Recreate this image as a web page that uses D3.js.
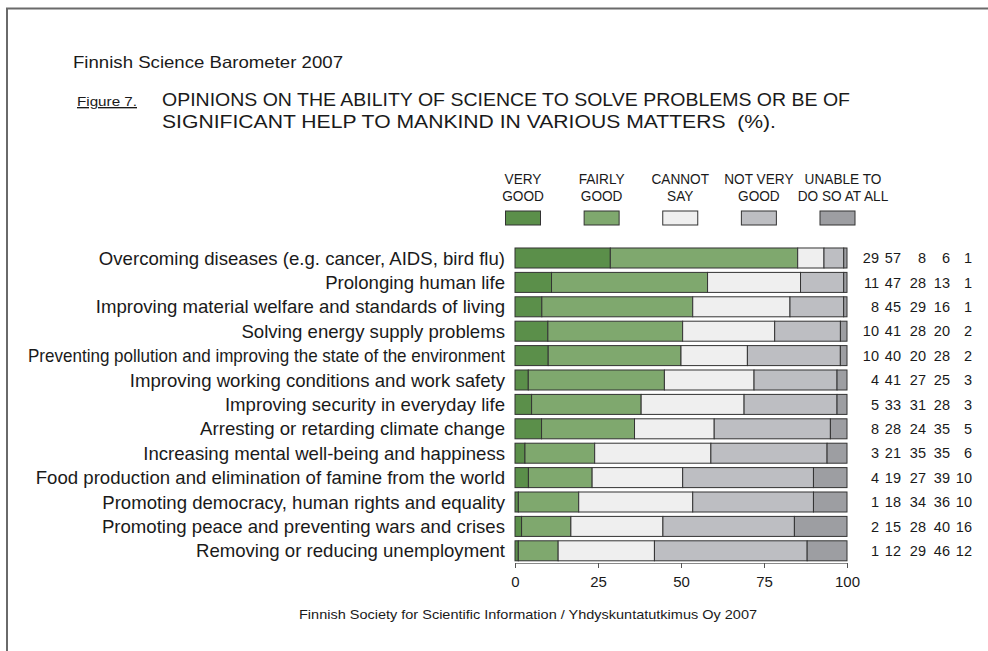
<!DOCTYPE html>
<html>
<head>
<meta charset="utf-8">
<script src="https://cdn.jsdelivr.net/npm/d3@7"></script>
<style>
  body { margin: 0; background: #fff; }
  svg { display: block; }
  text { font-family: "Liberation Sans", Arial, Helvetica, sans-serif; fill: #1a1a1a; }
</style>
</head>
<body>
<svg id="chart" width="988" height="651"></svg>
<script>
// Survey topics, top to bottom
const categories = [
  "Overcoming diseases (e.g. cancer, AIDS, bird flu)",
  "Prolonging human life",
  "Improving material welfare and standards of living",
  "Solving energy supply problems",
  "Preventing pollution and improving the state of the environment",
  "Improving working conditions and work safety",
  "Improving security in everyday life",
  "Arresting or retarding climate change",
  "Increasing mental well-being and happiness",
  "Food production and elimination of famine from the world",
  "Promoting democracy, human rights and equality",
  "Promoting peace and preventing wars and crises",
  "Removing or reducing unemployment"
];

// Answer shares (%) per topic
const veryGood    = [29, 11,  8, 10, 10,  4,  5,  8,  3,  4,  1,  2,  1];
const fairlyGood  = [57, 47, 45, 41, 40, 41, 33, 28, 21, 19, 18, 15, 12];
const cannotSay   = [ 8, 28, 29, 28, 20, 27, 31, 24, 35, 27, 34, 28, 29];
const notVeryGood = [ 6, 13, 16, 20, 28, 25, 28, 35, 35, 39, 36, 40, 46];
const unableAtAll = [ 1,  1,  1,  2,  2,  3,  3,  5,  6, 10, 10, 16, 12];

const seriesKeys = ["veryGood", "fairlyGood", "cannotSay", "notVeryGood", "unableAtAll"];
const seriesValues = [veryGood, fairlyGood, cannotSay, notVeryGood, unableAtAll];
const legendLabels = [
  ["VERY", "GOOD"],
  ["FAIRLY", "GOOD"],
  ["CANNOT", "SAY"],
  ["NOT VERY", "GOOD"],
  ["UNABLE TO", "DO SO AT ALL"]
];
const seriesColors = ["#5b8f4a", "#7fa86e", "#efefef", "#bdbec2", "#9d9ea2"];
const axisTicks = [0, 25, 50, 75, 100];

const svg = d3.select("#chart");

// Squeeze or stretch a text element horizontally to a given width
function fitWidth(sel, w) {
  sel.attr("textLength", w).attr("lengthAdjust", "spacingAndGlyphs");
}
function condense(sel, k) {
  sel.each(function () {
    const len = this.getComputedTextLength();
    d3.select(this).attr("textLength", len * k).attr("lengthAdjust", "spacingAndGlyphs");
  });
}
function capWidth(sel, maxW) {
  sel.each(function () {
    const len = this.getComputedTextLength();
    if (len > maxW) {
      d3.select(this).attr("textLength", maxW).attr("lengthAdjust", "spacingAndGlyphs");
    }
  });
}

// Page frame
svg.append("path")
  .attr("d", "M7,651 V8.5 H988")
  .attr("fill", "none")
  .attr("stroke", "#6a6a6a")
  .attr("stroke-width", 2);

// Headings
svg.append("text").attr("x", 73).attr("y", 68)
  .style("font-size", "16.5px")
  .text("Finnish Science Barometer 2007")
  .call(fitWidth, 270);

svg.append("text").attr("x", 77).attr("y", 106)
  .style("font-size", "13.5px")
  .attr("text-decoration", "underline")
  .text("Figure 7.")
  .call(fitWidth, 60);

svg.append("text").attr("x", 162).attr("y", 106)
  .style("font-size", "18.5px")
  .text("OPINIONS ON THE ABILITY OF SCIENCE TO SOLVE PROBLEMS OR BE OF")
  .call(fitWidth, 688);

svg.append("text").attr("x", 162).attr("y", 128)
  .style("font-size", "18.5px")
  .attr("xml:space", "preserve")
  .text("SIGNIFICANT HELP TO MANKIND IN VARIOUS MATTERS  (%).")
  .call(fitWidth, 614);

// Scales
const x = d3.scaleLinear().domain([0, 100]).range([515, 847]);
const y = d3.scaleBand().domain(categories).range([243.6, 565.2]).padding(0.18);

// Stacked rows, each normalised to its own total
const rows = categories.map((c, i) => {
  const r = { category: c };
  seriesKeys.forEach((k, j) => { r[k] = seriesValues[j][i]; });
  return r;
});
const stacked = d3.stack().keys(seriesKeys).offset(d3.stackOffsetExpand)(rows);

const layers = svg.append("g").selectAll("g")
  .data(stacked)
  .join("g")
  .attr("fill", (d, i) => seriesColors[i]);

layers.selectAll("rect")
  .data(d => d)
  .join("rect")
  .attr("x", d => x(d[0] * 100))
  .attr("y", d => y(d.data.category))
  .attr("width", d => x(d[1] * 100) - x(d[0] * 100))
  .attr("height", y.bandwidth())
  .attr("stroke", "#333")
  .attr("stroke-width", 1);

// Category labels (the longest one is squeezed to keep inside the frame)
svg.append("g").selectAll("text")
  .data(categories)
  .join("text")
  .attr("x", 505)
  .attr("y", d => y(d) + y.bandwidth() / 2)
  .attr("dy", "0.36em")
  .attr("text-anchor", "end")
  .style("font-size", "18.6px")
  .text(d => d)
  .call(capWidth, 477);

// Value table on the right
const colRight = [879, 901, 926, 950, 972];
seriesValues.forEach((vals, j) => {
  svg.append("g").selectAll("text")
    .data(vals)
    .join("text")
    .attr("x", colRight[j])
    .attr("y", (d, i) => y(categories[i]) + y.bandwidth() / 2)
    .attr("dy", "0.36em")
    .attr("text-anchor", "end")
    .style("font-size", "14.5px")
    .text(d => d);
});

// Bottom axis
const axis = svg.append("g")
  .attr("transform", "translate(0,563)")
  .call(d3.axisBottom(x).tickValues(axisTicks).tickSize(5).tickSizeOuter(0).tickPadding(8));
axis.select(".domain").attr("stroke", "#8a8a8a");
axis.selectAll(".tick line").attr("stroke", "#555");
axis.selectAll(".tick text")
  .style("font-family", "\"Liberation Sans\", Arial, sans-serif")
  .style("font-size", "15px")
  .attr("fill", "#1a1a1a");

// Legend
const legendX = d3.scalePoint().domain(seriesKeys).range([523, 837.5]);
const legendTextShift = [0, 0, 0, 0, 5.5];
const legend = svg.append("g").selectAll("g")
  .data(seriesKeys)
  .join("g")
  .attr("transform", d => `translate(${legendX(d)},0)`);

legend.append("rect")
  .attr("x", -17.5).attr("y", 211)
  .attr("width", 35).attr("height", 14)
  .attr("fill", (d, i) => seriesColors[i])
  .attr("stroke", "#333");

legend.each(function (d, i) {
  const g = d3.select(this);
  legendLabels[i].forEach((line, k) => {
    g.append("text")
      .attr("x", legendTextShift[i])
      .attr("y", 183.5 + k * 17)
      .attr("text-anchor", "middle")
      .style("font-size", "15.5px")
      .text(line)
      .call(condense, 0.88);
  });
});

// Source note
svg.append("text").attr("x", 528).attr("y", 619)
  .attr("text-anchor", "middle")
  .style("font-size", "13.5px")
  .text("Finnish Society for Scientific Information / Yhdyskuntatutkimus Oy 2007")
  .call(fitWidth, 458);
</script>
</body>
</html>
